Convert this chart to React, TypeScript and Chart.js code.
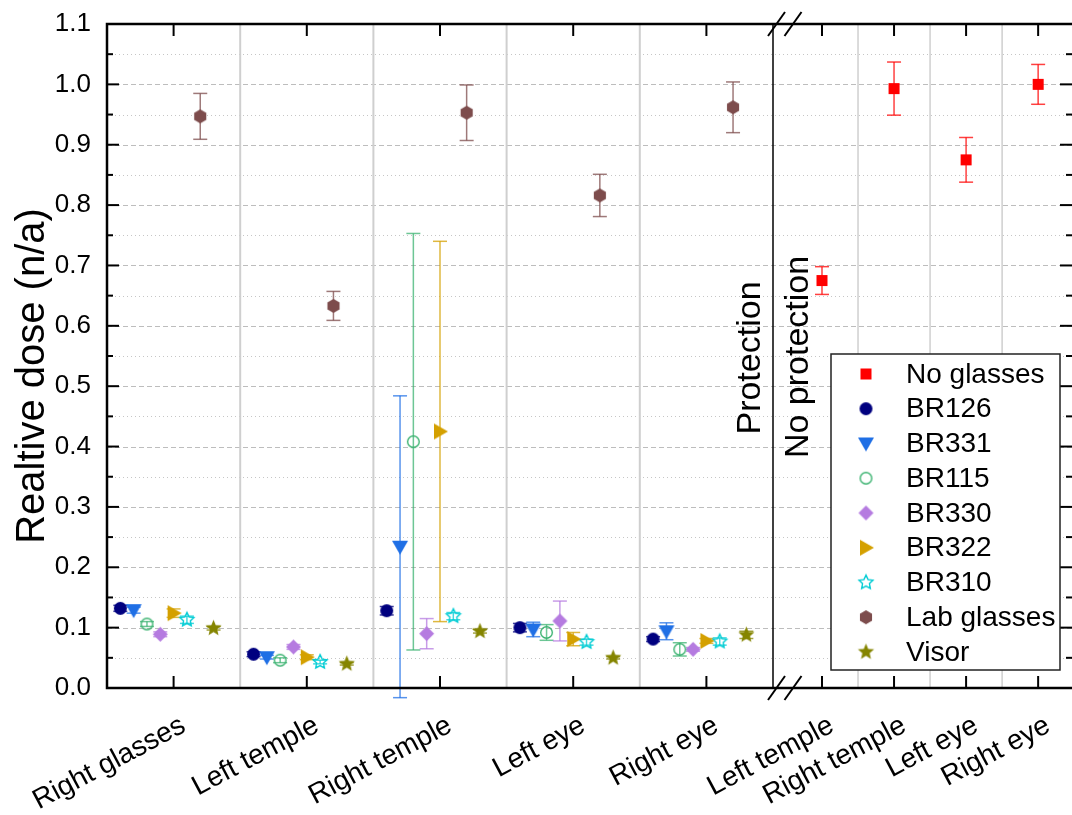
import React, { useEffect, useRef } from 'react';
import { Chart, registerables } from 'chart.js';

Chart.register(...registerables);

const FONT = "'Liberation Sans', Arial, Helvetica, sans-serif";

// ---------- data ----------
const leftCategories = ['Right glasses', 'Left temple', 'Right temple', 'Left eye', 'Right eye'];
const rightCategories = ['Left temple', 'Right temple', 'Left eye', 'Right eye'];
const seriesOffsets = [-0.4, -0.3, -0.2, -0.1, 0, 0.1, 0.2, 0.3];

const noGlasses = [0.675, 0.993, 0.875, 1.0];
const noGlassesErr = [0.023, 0.044, 0.037, 0.033];

const br126 = [0.132, 0.056, 0.128, 0.1, 0.081];
const br126Err = [0.005, 0.004, 0.007, 0.007, 0.004];
const br331 = [0.129, 0.051, 0.234, 0.097, 0.094];
const br331Err = [0.005, 0.003, 0.25, 0.012, 0.014];
const br115 = [0.106, 0.046, 0.408, 0.092, 0.064];
const br115Err = [0.004, 0.004, 0.345, 0.013, 0.011];
const br330 = [0.089, 0.068, 0.09, 0.111, 0.064];
const br330Err = [0.004, 0.004, 0.025, 0.033, 0.003];
const br322 = [0.124, 0.051, 0.425, 0.081, 0.078];
const br322Err = [0.007, 0.004, 0.315, 0.011, 0.004];
const br310 = [0.113, 0.043, 0.119, 0.076, 0.077];
const br310Err = [0.006, 0.003, 0.006, 0.005, 0.006];
const labGlasses = [0.947, 0.633, 0.953, 0.816, 0.962];
const labGlassesErr = [0.038, 0.024, 0.046, 0.035, 0.042];
const visor = [0.099, 0.04, 0.094, 0.05, 0.088];
const visorErr = [0.003, 0.002, 0.003, 0.002, 0.006];

const yMin = 0;
const yMax = 1.1;
const yStep = 0.1;
const yAxisTitle = 'Realtive dose (n/a)';
const leftSectionLabel = 'Protection';
const rightSectionLabel = 'No protection';

const noGlassesSeries = { label: 'No glasses', values: noGlasses, errors: noGlassesErr, color: '#FF0000', shape: 'square', size: 11 };
const leftSeries = [
  { label: 'BR126', values: br126, errors: br126Err, color: '#00007F', shape: 'circle', size: 13 },
  { label: 'BR331', values: br331, errors: br331Err, color: '#1F6FE5', shape: 'triDown', size: 16 },
  { label: 'BR115', values: br115, errors: br115Err, color: '#3CB371', shape: 'openCircle', size: 13 },
  { label: 'BR330', values: br330, errors: br330Err, color: '#B57BE0', shape: 'diamond', size: 15 },
  { label: 'BR322', values: br322, errors: br322Err, color: '#D4A000', shape: 'triRight', size: 16 },
  { label: 'BR310', values: br310, errors: br310Err, color: '#00CCD4', shape: 'openStar', size: 16 },
  { label: 'Lab glasses', values: labGlasses, errors: labGlassesErr, color: '#7D4C4C', shape: 'hexagon', size: 14 },
  { label: 'Visor', values: visor, errors: visorErr, color: '#858500', shape: 'star', size: 17 },
];

function makeMarker(shape: string, color: string, size: number): HTMLCanvasElement {
  const S = Math.ceil(size) + 4;
  const c = document.createElement('canvas');
  c.width = S;
  c.height = S;
  const g = c.getContext('2d') as CanvasRenderingContext2D;
  const cx = S / 2;
  const cy = S / 2;
  const r = size / 2;
  g.fillStyle = color;
  g.strokeStyle = color;
  g.lineWidth = 1.4;
  g.beginPath();
  const poly = (pts: number[][]) => {
    pts.forEach(([x, y], i) => (i ? g.lineTo(cx + x, cy + y) : g.moveTo(cx + x, cy + y)));
    g.closePath();
  };
  const starPts = (ro: number, ri: number) => {
    const p: number[][] = [];
    for (let k = 0; k < 10; k++) {
      const a = -Math.PI / 2 + (k * Math.PI) / 5;
      const rr = k % 2 ? ri : ro;
      p.push([rr * Math.cos(a), rr * Math.sin(a)]);
    }
    return p;
  };
  switch (shape) {
    case 'square':
      g.rect(cx - r, cy - r, size, size);
      g.fill();
      break;
    case 'circle':
      g.arc(cx, cy, r, 0, Math.PI * 2);
      g.fill();
      break;
    case 'openCircle':
      g.arc(cx, cy, r - 0.7, 0, Math.PI * 2);
      g.stroke();
      break;
    case 'triDown':
      poly([[-r, -r * 0.75], [r, -r * 0.75], [0, r]]);
      g.fill();
      break;
    case 'triRight':
      poly([[-r * 0.75, -r], [r, 0], [-r * 0.75, r]]);
      g.fill();
      break;
    case 'diamond':
      poly([[0, -r], [r, 0], [0, r], [-r, 0]]);
      g.fill();
      break;
    case 'hexagon':
      poly(Array.from({ length: 6 }, (_, k) => {
        const a = -Math.PI / 2 + (k * Math.PI) / 3;
        return [r * Math.cos(a), r * Math.sin(a)];
      }));
      g.fill();
      break;
    case 'star':
      poly(starPts(r, r * 0.45));
      g.fill();
      break;
    case 'openStar':
      poly(starPts(r - 0.6, r * 0.45));
      g.stroke();
      break;
  }
  return c;
}

function withAlpha(hex: string, a: number) {
  const n = parseInt(hex.slice(1), 16);
  return `rgba(${(n >> 16) & 255},${(n >> 8) & 255},${n & 255},${a})`;
}

export default function App() {
  const ref = useRef<HTMLCanvasElement>(null);

  useEffect(() => {
    const canvas = ref.current;
    if (!canvas) return;

    const allSeries = [noGlassesSeries, ...leftSeries];
    const markers = allSeries.map((s) => makeMarker(s.shape, s.color, s.size));

    const datasets: any[] = [
      {
        label: noGlassesSeries.label,
        xAxisID: 'xR',
        yAxisID: 'y',
        data: noGlassesSeries.values.map((v, i) => ({ x: i + 1, y: v })),
        errors: noGlassesSeries.errors,
        errColor: noGlassesSeries.color,
        pointStyle: markers[0],
        pointRadius: 6,
        showLine: false,
      },
      ...leftSeries.map((s, k) => ({
        label: s.label,
        xAxisID: 'xL',
        yAxisID: 'y',
        data: s.values.map((v, i) => ({ x: i + 1 + seriesOffsets[k], y: v })),
        errors: s.errors,
        errColor: s.color,
        pointStyle: markers[k + 1],
        pointRadius: 6,
        showLine: false,
      })),
    ];

    const line = (ctx: CanvasRenderingContext2D, x1: number, y1: number, x2: number, y2: number) => {
      ctx.beginPath();
      ctx.moveTo(x1, y1);
      ctx.lineTo(x2, y2);
      ctx.stroke();
    };

    const customPlugin = {
      id: 'customDecor',
      beforeDatasetsDraw(chart: any) {
        const { ctx, chartArea: a, scales } = chart;
        const y = scales.y;
        const xL = scales.xL;
        const xR = scales.xR;
        ctx.save();
        // horizontal grid: dashed at major ticks, dotted at minor ticks
        const nHalf = Math.round((yMax - yMin) / (yStep / 2));
        for (let i = 1; i < nHalf; i++) {
          const v = yMin + (i * yStep) / 2;
          const py = Math.round(y.getPixelForValue(v)) + 0.5;
          if (i % 2 === 0) {
            ctx.strokeStyle = '#bdbdbd';
            ctx.lineWidth = 1;
            ctx.setLineDash([5, 3]);
          } else {
            ctx.strokeStyle = '#c6c6c6';
            ctx.lineWidth = 1;
            ctx.setLineDash([1, 3]);
          }
          line(ctx, a.left, py, a.right, py);
        }
        ctx.setLineDash([]);
        // vertical group separators
        ctx.strokeStyle = '#cfcfcf';
        ctx.lineWidth = 2;
        for (let i = 1; i < leftCategories.length; i++) {
          const px = xL.getPixelForValue(i + 0.5);
          line(ctx, px, a.top, px, a.bottom);
        }
        ctx.lineWidth = 1.5;
        for (let i = 1; i < rightCategories.length; i++) {
          const px = xR.getPixelForValue(i + 0.5);
          line(ctx, px, a.top, px, a.bottom);
        }
        // error bars
        chart.data.datasets.forEach((ds: any, di: number) => {
          const meta = chart.getDatasetMeta(di);
          ctx.strokeStyle = withAlpha(ds.errColor, 0.75);
          ctx.lineWidth = 1.5;
          meta.data.forEach((el: any, i: number) => {
            const v = ds.data[i].y;
            const e = ds.errors[i];
            const yt = y.getPixelForValue(v + e);
            const yb = y.getPixelForValue(v - e);
            const x = el.x;
            line(ctx, x, yt, x, yb);
            line(ctx, x - 7, yt, x + 7, yt);
            line(ctx, x - 7, yb, x + 7, yb);
          });
        });
        ctx.restore();
      },
      afterDraw(chart: any) {
        const { ctx, chartArea: a, scales } = chart;
        const y = scales.y;
        const xL = scales.xL;
        const xR = scales.xR;
        ctx.save();
        ctx.strokeStyle = '#000';
        ctx.lineCap = 'butt';
        // inward ticks on left and right axes
        ctx.lineWidth = 2;
        const nHalf = Math.round((yMax - yMin) / (yStep / 2));
        for (let i = 0; i <= nHalf; i++) {
          const v = yMin + (i * yStep) / 2;
          const py = y.getPixelForValue(v);
          const len = i % 2 === 0 ? 12 : 6;
          line(ctx, a.left, py, a.left + len, py);
          line(ctx, a.right, py, a.right - len, py);
        }
        // inward ticks on top and bottom axes
        leftCategories.forEach((_, i) => {
          const px = xL.getPixelForValue(i + 1);
          line(ctx, px, a.bottom, px, a.bottom - 12);
          line(ctx, px, a.top, px, a.top + 12);
        });
        rightCategories.forEach((_, i) => {
          const px = xR.getPixelForValue(i + 1);
          line(ctx, px, a.bottom, px, a.bottom - 12);
          line(ctx, px, a.top, px, a.top + 12);
        });
        // frame
        ctx.lineWidth = 2.5;
        ctx.strokeRect(a.left, a.top, a.right - a.left + 2, a.bottom - a.top);
        // axis break
        const bx = xR.left;
        ctx.lineWidth = 1.5;
        line(ctx, bx, a.top, bx, a.bottom);
        ctx.lineWidth = 2;
        [a.top, a.bottom].forEach((yy: number) => {
          [3.5, 20].forEach((dx) => {
            line(ctx, bx + dx - 8.5, yy + 12, bx + dx + 8.5, yy - 12);
          });
        });
        // y axis title
        ctx.fillStyle = '#000';
        ctx.font = `40px ${FONT}`;
        ctx.textAlign = 'center';
        ctx.textBaseline = 'alphabetic';
        ctx.save();
        ctx.translate(44, (a.top + a.bottom) / 2 + 20);
        ctx.rotate(-Math.PI / 2);
        ctx.fillText(yAxisTitle, 0, 0);
        ctx.restore();
        // section labels
        ctx.font = `34px ${FONT}`;
        ctx.save();
        ctx.translate(bx - 13, (a.top + a.bottom) / 2 + 2);
        ctx.rotate(-Math.PI / 2);
        ctx.fillText(leftSectionLabel, 0, 0);
        ctx.restore();
        ctx.save();
        ctx.translate(bx + 35, (a.top + a.bottom) / 2 + 1);
        ctx.rotate(-Math.PI / 2);
        ctx.fillText(rightSectionLabel, 0, 0);
        ctx.restore();
        // legend
        const lx = 831;
        const ly = 354;
        const lw = 229;
        const lh = 316;
        ctx.fillStyle = '#fff';
        ctx.fillRect(lx, ly, lw, lh);
        ctx.strokeStyle = '#222';
        ctx.lineWidth = 1.5;
        ctx.strokeRect(lx, ly, lw, lh);
        ctx.font = `28px ${FONT}`;
        ctx.textAlign = 'left';
        ctx.textBaseline = 'middle';
        ctx.fillStyle = '#000';
        allSeries.forEach((s, i) => {
          const ry = 374 + i * 34.75;
          const m = markers[i];
          ctx.drawImage(m, 866 - m.width / 2, ry - m.height / 2);
          ctx.fillText(s.label, 906, ry + 1);
        });
        ctx.restore();
      },
    };

    const tickFont = { size: 28, family: FONT };

    const chart = new Chart(canvas, {
      type: 'scatter',
      data: { datasets },
      plugins: [customPlugin],
      options: {
        animation: false,
        responsive: false,
        events: [],
        layout: { autoPadding: false, padding: { top: 24, left: 0, right: 0, bottom: 0 } },
        plugins: {
          legend: { display: false },
          tooltip: { enabled: false },
        },
        scales: {
          xL: {
            type: 'linear',
            position: 'bottom',
            stack: 'x',
            stackWeight: 666,
            min: 0.5,
            max: leftCategories.length + 0.5,
            bounds: 'data',
            grid: { display: false, drawTicks: false },
            border: { display: false },
            ticks: {
              autoSkip: false,
              minRotation: 28,
              maxRotation: 28,
              padding: 21,
              labelOffset: 10,
              color: '#000',
              font: tickFont,
              callback: (v: any) => leftCategories[Math.round(Number(v)) - 1] ?? '',
            },
            afterBuildTicks: (s: any) => {
              s.ticks = leftCategories.map((_, i) => ({ value: i + 1 }));
            },
            afterFit: (s: any) => {
              s.height = 127;
              s.paddingLeft = 0;
              s.paddingRight = 0;
            },
          },
          xR: {
            type: 'linear',
            position: 'bottom',
            stack: 'x',
            stackWeight: 299,
            min: 0.32,
            max: 4.47,
            bounds: 'data',
            grid: { display: false, drawTicks: false },
            border: { display: false },
            ticks: {
              autoSkip: false,
              minRotation: 28,
              maxRotation: 28,
              padding: 21,
              labelOffset: 10,
              color: '#000',
              font: tickFont,
              callback: (v: any) => rightCategories[Math.round(Number(v)) - 1] ?? '',
            },
            afterBuildTicks: (s: any) => {
              s.ticks = rightCategories.map((_, i) => ({ value: i + 1 }));
            },
            afterFit: (s: any) => {
              s.height = 127;
              s.paddingLeft = 0;
              s.paddingRight = 0;
            },
          },
          y: {
            type: 'linear',
            position: 'left',
            min: yMin,
            max: yMax,
            bounds: 'data',
            grid: { display: false, drawTicks: false },
            border: { display: false },
            ticks: {
              stepSize: yStep,
              padding: 16,
              color: '#000',
              font: { size: 26, family: FONT },
              callback: (v: any) => Number(v).toFixed(1),
            },
            afterFit: (s: any) => {
              s.width = 107;
              s.paddingTop = 0;
              s.paddingBottom = 0;
            },
          },
        },
      } as any,
    });

    return () => chart.destroy();
  }, []);

  return (
    <div style={{ position: 'absolute', left: 0, top: 0, width: 1072, height: 815, background: '#fff' }}>
      <canvas ref={ref} width={1072} height={815} style={{ display: 'block', width: 1072, height: 815 }} />
    </div>
  );
}
